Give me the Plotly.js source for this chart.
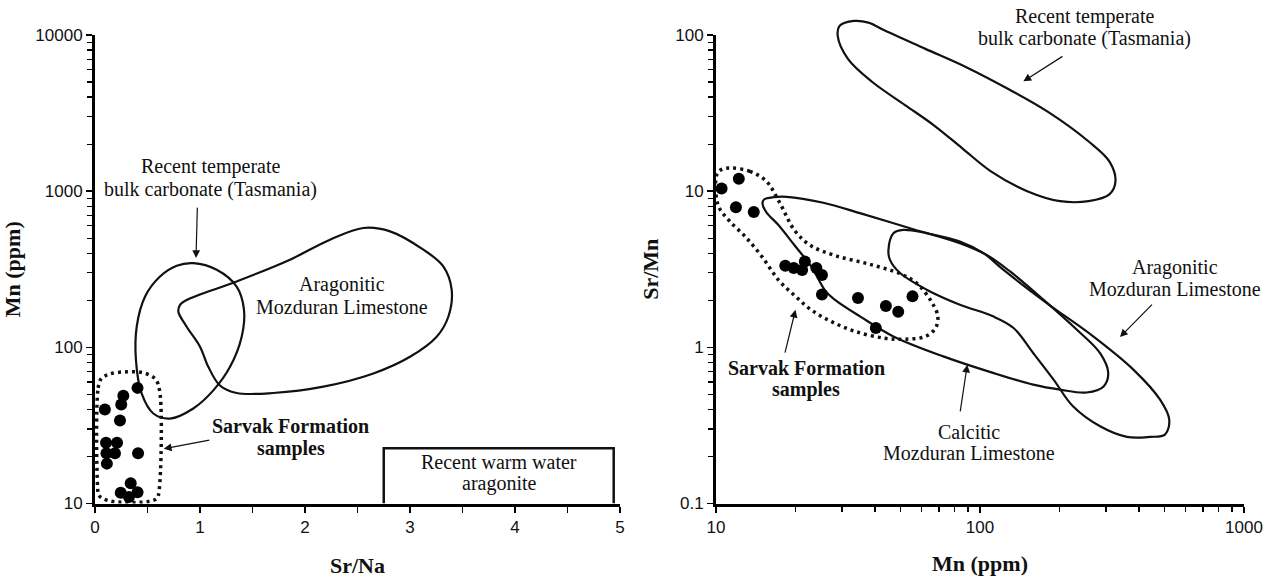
<!DOCTYPE html>
<html><head><meta charset="utf-8">
<script src="https://cdn.plot.ly/plotly-3.0.1.min.js"></script>
<style>html,body{margin:0;padding:0;background:#fff}#chart{width:1280px;height:581px}</style>
</head><body><div id="chart"></div>
<script>
// ---------- LEFT PANEL DATA (Sr/Na vs Mn ppm) ----------
const sarvakSrNa = [0.405,0.27,0.25,0.094,0.238,0.105,0.21,0.109,0.19,0.41,0.113,0.34,0.245,0.405,0.323];
const sarvakMnLeft = [55,49,43,40,34,24.5,24.5,21,21,21,18,13.5,11.7,11.8,11];

const envLeftX = [0.03,0.03,0.06,0.14,0.3,0.46,0.571,0.615,0.61,0.59,0.51,0.17,0.07,0.035,0.03];
const envLeftY = [11.5,55,63,67.5,69.7,68.7,63,53,12,10.8,10.3,10.3,10.8,11.3,11.5];

const tasLeftX = [0.936,1.159,1.349,1.419,1.397,1.286,1.127,0.936,0.714,0.556,0.444,0.39,0.397,0.476,0.619,0.778,0.936];
const tasLeftY = [346,314,245,174,117,75,53,40.6,35,37.7,50.7,82.8,135.5,211,284,333,346];

const aragLeftX = [0.81,0.873,1.349,1.857,2.238,2.556,2.81,3.127,3.317,3.397,3.365,3.254,3.0,2.651,2.175,1.698,1.349,1.19,1.079,1.0,0.873,0.794,0.81];
const aragLeftY = [187,201,264,364,489,581,553,422,330,233,157,117,87,68,56,51,51,57,75,101,135.5,169,187];

const warmX = [2.75,2.75,4.94,4.94];
const warmY = [10,22.6,22.6,10];

// ---------- RIGHT PANEL DATA (Mn ppm vs Sr/Mn) ----------
const sarvakMnRight = [10.5,12.2,11.9,13.9,18.3,19.7,21.2,21.7,24.0,25.2,25.2,34.5,44,49,55.5,40.3];
const sarvakSrMn = [10.4,12.0,7.9,7.36,3.33,3.22,3.13,3.54,3.22,2.91,2.18,2.07,1.84,1.69,2.12,1.33];

const envRightX = [11.46,13.43,15.5,17.3,19.9,22.9,28.4,37.8,50.1,57.9,65.6,69.2,67.9,62.2,52.0,43.6,33.9,27.4,22.9,19.9,17.3,15.0,13.0,11.25,10.28,10.0,10.07,10.47,11.46];
const envRightY = [14.06,13.4,11.6,8.63,5.57,4.47,3.86,3.42,2.95,2.55,1.95,1.585,1.33,1.175,1.127,1.143,1.26,1.46,1.74,2.14,2.68,3.77,5.05,6.44,7.83,9.53,12.76,13.74,14.06];

const calcRightX = [16.6,18.5,25.5,35.1,54.3,83.9,105.9,130,173.8,232.3,285,306,294,253.5,201,159,112,72.6,47,35.1,28.4,26,22.9,19.9,17.3,15.5,15.0,15.2,16.6];
const calcRightY = [9.16,9.2,8.43,7.23,5.79,4.65,3.91,3.06,2.02,1.30,0.918,0.686,0.562,0.514,0.536,0.577,0.686,0.875,1.175,1.58,2.0,2.29,3.31,4.47,6.03,7.35,8.32,8.85,9.16];

const aragRightX = [45,47,51.2,62.8,83.9,103,122.5,179,268.5,381,481,521,502,441,360,285,225,190,159,134,112,83.9,62.8,49.8,45.6,45];
const aragRightY = [4.21,5.38,5.65,5.38,4.76,4.01,3.14,1.92,1.175,0.72,0.462,0.344,0.276,0.267,0.267,0.312,0.419,0.621,0.92,1.33,1.58,1.875,2.34,2.99,3.63,4.21];

const tasRightX = [33.3,29.4,28.9,31.6,39.1,52,66.7,85.7,110,151,201,258,309,326,309,258,181,127,88.7,62.1,43.6,37.8,33.3];
const tasRightY = [123,114.5,99,70.3,50,35.6,26.5,18.8,13.4,10,8.63,8.63,9.53,11.6,15.5,20.8,32.2,45.4,62.2,81.5,106.7,120,123];

// ---------- TEXT ----------
const lblTasmania = ['Recent temperate','bulk carbonate (Tasmania)'];
const lblArag = ['Aragonitic','Mozduran Limestone'];
const lblCalc = ['Calcitic','Mozduran Limestone'];
const lblSarvak = ['Sarvak Formation','samples'];
const lblWarm = ['Recent warm water','aragonite'];

// ---------- LAYOUT GEOMETRY ----------
const W = 1280, H = 581;
const XL = [95/W, 620/W];
const XR = [716/W, 1244/W];
const YD = [(H-503.5)/H, (H-35)/H];
const YEXT = 0.998;
const y3top = -1 + (YEXT - YD[0]) * 3 / (YD[1] - YD[0]);

const SERIF = "'Liberation Serif','Times New Roman',Times,serif";
const SANS = "'Liberation Sans',Arial,Helvetica,sans-serif";
const INK = '#111';

const solid = {color: INK, width: 2.2, shape: 'spline', smoothing: 1};
const dotted = {color: INK, width: 3.5, dash: '3px,4px', shape: 'spline', smoothing: 1};

const traces = [
  {x: envLeftX, y: envLeftY, xaxis: 'x', yaxis: 'y', mode: 'lines', line: dotted},
  {x: tasLeftX, y: tasLeftY, xaxis: 'x', yaxis: 'y', mode: 'lines', line: solid},
  {x: aragLeftX, y: aragLeftY, xaxis: 'x', yaxis: 'y', mode: 'lines', line: solid},
  {x: warmX, y: warmY, xaxis: 'x', yaxis: 'y', mode: 'lines', line: {color: INK, width: 2.5}},
  {x: sarvakSrNa, y: sarvakMnLeft, xaxis: 'x', yaxis: 'y', mode: 'markers', cliponaxis: false,
   marker: {size: 12, color: '#000'}},
  {x: tasRightX, y: tasRightY, xaxis: 'x3', yaxis: 'y3', mode: 'lines', line: solid},
  {x: envRightX, y: envRightY, xaxis: 'x2', yaxis: 'y2', mode: 'lines', line: dotted},
  {x: calcRightX, y: calcRightY, xaxis: 'x2', yaxis: 'y2', mode: 'lines', line: solid},
  {x: aragRightX, y: aragRightY, xaxis: 'x2', yaxis: 'y2', mode: 'lines', line: solid},
  {x: sarvakMnRight, y: sarvakSrMn, xaxis: 'x2', yaxis: 'y2', mode: 'markers', cliponaxis: false,
   marker: {size: 12, color: '#000'}}
];

const axBase = {
  showline: true, linewidth: 3, linecolor: '#000', mirror: false,
  ticks: 'outside', ticklen: 6, tickwidth: 1.5, tickcolor: '#000',
  showgrid: false, zeroline: false, fixedrange: true,
  tickfont: {family: SANS, size: 17, color: INK}
};
const minorLin = {dtick: 0.5, ticks: 'outside', ticklen: 6, tickwidth: 1.5, tickcolor: '#000', showgrid: false};
const minorLog = {dtick: 'D1', ticks: 'outside', ticklen: 5, tickwidth: 1.3, tickcolor: '#000', showgrid: false};
const titleFont = {family: SERIF, size: 22, color: INK};

const logKeys = {x: false, y: true, x2: true, y2: true, x3: true, y3: true};
const conv = (ref, v) => logKeys[ref] ? Math.log10(v) : v;

function textBlock(lines, xref, yref, x, y, spacing, bold) {
  const n = lines.length;
  return lines.map((t, i) => ({
    xref: xref, yref: yref, x: conv(xref, x), y: conv(yref, y),
    text: bold ? '<b>' + t + '</b>' : t, showarrow: false,
    xanchor: 'center', yanchor: 'middle',
    yshift: ((n - 1) / 2 - i) * spacing,
    font: {family: SERIF, size: 20, color: INK}
  }));
}
function arrow(xref, yref, tipX, tipY, tailX, tailY) {
  return {
    xref: xref, yref: yref, axref: xref, ayref: yref,
    x: conv(xref, tipX), y: conv(yref, tipY), ax: conv(xref, tailX), ay: conv(yref, tailY),
    text: '', showarrow: true, arrowhead: 2, arrowsize: 1.3, arrowwidth: 1.2,
    arrowcolor: INK, standoff: 0, startstandoff: 0
  };
}

const annotations = [].concat(
  textBlock(lblTasmania, 'x', 'y', 1.1, 1217, 23, false),
  [arrow('x', 'y', 0.962, 373, 0.975, 802)],
  textBlock(lblArag, 'x', 'y', 2.35, 214, 22, false),
  textBlock(lblSarvak, 'x', 'y', 1.863, 26.5, 22.5, true),
  [arrow('x', 'y', 0.655, 22.4, 1.103, 25.6)],
  textBlock(lblWarm, 'x', 'y', 3.85, 15.7, 21, false),
  textBlock(lblTasmania, 'x3', 'y3', 248, 112, 22, false),
  [arrow('x3', 'y3', 146, 50.5, 208, 74)],
  textBlock(lblArag, 'x2', 'y2', 550, 2.76, 22, false),
  [arrow('x2', 'y2', 339, 1.164, 454, 1.92)],
  textBlock(lblCalc, 'x2', 'y2', 91, 0.246, 21.5, false),
  [arrow('x2', 'y2', 89.5, 0.774, 84, 0.38)],
  textBlock(lblSarvak, 'x2', 'y2', 22, 0.63, 22, true),
  [arrow('x2', 'y2', 20.0, 1.74, 18.2, 0.906)]
);

const layout = {
  width: W, height: H,
  margin: {l: 0, r: 0, t: 0, b: 0, pad: 0},
  paper_bgcolor: '#fff', plot_bgcolor: 'rgba(0,0,0,0)',
  showlegend: false, hovermode: false,
  xaxis: Object.assign({}, axBase, {
    domain: XL, anchor: 'y', range: [0, 5], tick0: 0, dtick: 1, minor: minorLin,
    title: {text: '<b>Sr/Na</b>', font: titleFont, standoff: 22}
  }),
  yaxis: Object.assign({}, axBase, {
    domain: YD, anchor: 'x', type: 'log', range: [1, 4], dtick: 1, tickformat: 'd',
    minor: minorLog, title: {text: '<b>Mn (ppm)</b>', font: titleFont, standoff: 20}
  }),
  xaxis2: Object.assign({}, axBase, {
    domain: XR, anchor: 'y2', type: 'log', range: [1, 3], dtick: 1, exponentformat: 'none',
    minor: minorLog, title: {text: '<b>Mn (ppm)</b>', font: titleFont, standoff: 20}
  }),
  yaxis2: Object.assign({}, axBase, {
    domain: YD, anchor: 'x2', type: 'log', range: [-1, 2], dtick: 1, exponentformat: 'none',
    minor: minorLog, title: {text: '<b>Sr/Mn</b>', font: titleFont, standoff: 11}
  }),
  xaxis3: {domain: XR, anchor: 'y3', type: 'log', range: [1, 3], visible: false, fixedrange: true},
  yaxis3: {domain: [YD[0], YEXT], anchor: 'x3', type: 'log', range: [-1, y3top], visible: false, fixedrange: true},
  annotations: annotations
};

Plotly.newPlot('chart', traces, layout, {staticPlot: true, displayModeBar: false});
</script></body></html>
